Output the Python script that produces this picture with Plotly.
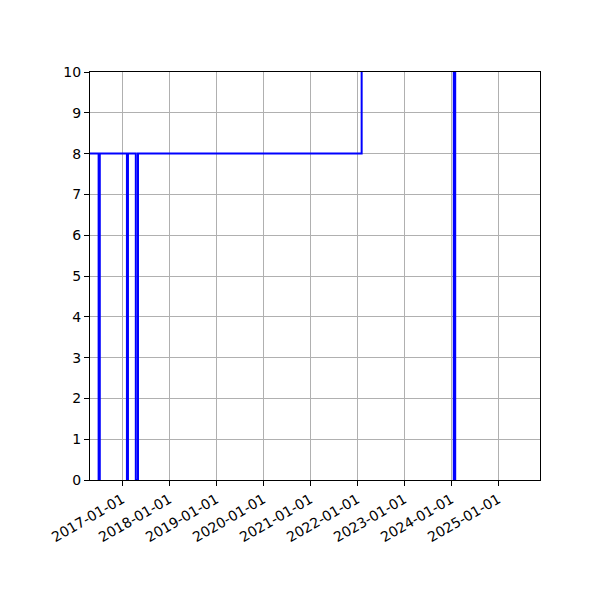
import plotly.graph_objects as go

# step data: value holds from each date until the next one
dates = ["2016-04-01", "2016-07-01", "2016-07-10", "2017-02-06", "2017-02-14",
         "2017-04-16", "2017-05-03", "2022-02-04", "2024-01-21", "2024-02-01",
         "2025-12-31"]
values = [8, 0, 8, 0, 8, 0, 8, 12, 0, 12, 12]

tick_dates = ["2017-01-01", "2018-01-01", "2019-01-01", "2020-01-01", "2021-01-01",
              "2022-01-01", "2023-01-01", "2024-01-01", "2025-01-01"]

fig = go.Figure()
fig.add_trace(go.Scatter(
    x=dates, y=values, mode="lines", line_shape="hv",
    line=dict(color="rgb(0, 0, 255)", width=2),
))

axis_style = dict(
    showline=True, mirror=True, linecolor="black", linewidth=1,
    showgrid=True, gridcolor="#b0b0b0", gridwidth=1,
    ticks="outside", ticklen=5, tickcolor="black", zeroline=False,
)

fig.update_layout(
    width=600, height=600,
    margin=dict(l=82, r=68, t=64, b=128),
    paper_bgcolor="white", plot_bgcolor="white",
    font=dict(family="DejaVu Sans", size=14, color="black"),
    showlegend=False,
    xaxis=dict(range=["2016-04-25", "2025-11-21"], tickvals=tick_dates,
               ticktext=tick_dates, tickangle=-30, **axis_style),
    yaxis=dict(range=[0, 10], dtick=1, **axis_style),
)
fig.write_html("out.html")
